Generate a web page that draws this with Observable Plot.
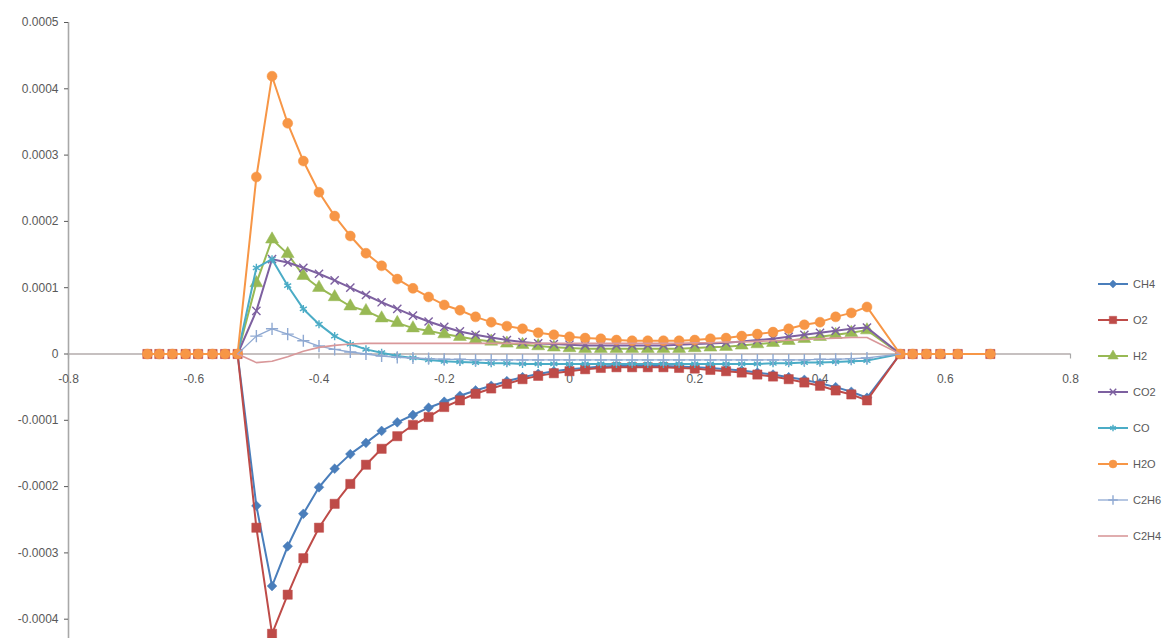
<!DOCTYPE html>
<html>
<head>
<meta charset="utf-8">
<script src="https://cdn.jsdelivr.net/npm/d3@7"></script>
<script src="https://cdn.jsdelivr.net/npm/@observablehq/plot@0.6"></script>
<style>
  html, body { margin: 0; padding: 0; background: #fff; }
  #wrap { position: relative; width: 1165px; height: 638px; overflow: hidden; }
  #legend { position: absolute; left: 1096px; top: 266px; font-family: "Liberation Sans", Arial, sans-serif; font-size: 11px; color: #595959; }
  .row { display: flex; align-items: center; height: 36px; }
  .row svg { margin-right: 3px; }
</style>
</head>
<body>
<div id="wrap"><div id="legend"></div></div>
<script>
// ---- data (values in units of 1e-5) ----
const UNIT = 1e-5;
const seriesNames = ["CH4", "O2", "H2", "CO2", "CO", "H2O", "C2H6", "C2H4"];
const xLeftZeros = [-0.674, -0.655, -0.634, -0.613, -0.593, -0.570, -0.550, -0.530];
const xRightZeros = [0.528, 0.548, 0.570, 0.592, 0.620, 0.672];
const xInner = [-0.5, -0.475, -0.45, -0.425, -0.4, -0.375, -0.35, -0.325, -0.3, -0.275,
  -0.25, -0.225, -0.2, -0.175, -0.15, -0.125, -0.1, -0.075, -0.05, -0.025,
  0, 0.025, 0.05, 0.075, 0.1, 0.125, 0.15, 0.175, 0.2, 0.225,
  0.25, 0.275, 0.3, 0.325, 0.35, 0.375, 0.4, 0.425, 0.45, 0.475];
const ch4 = [-22.9, -35.0, -29.0, -24.1, -20.1, -17.3, -15.1, -13.4, -11.6, -10.3,
  -9.2, -8.1, -7.2, -6.3, -5.5, -4.8, -4.1, -3.5, -3.0, -2.6,
  -2.3, -2.1, -1.9, -1.8, -1.8, -1.8, -1.8, -1.9, -2.0, -2.1,
  -2.3, -2.5, -2.8, -3.1, -3.5, -3.9, -4.4, -5.0, -5.7, -6.6];
const o2 = [-26.2, -42.2, -36.3, -30.8, -26.2, -22.6, -19.6, -16.7, -14.3, -12.4,
  -10.7, -9.5, -8.0, -7.0, -6.0, -5.2, -4.5, -3.8, -3.3, -2.9,
  -2.6, -2.3, -2.1, -2.0, -2.0, -2.0, -2.0, -2.1, -2.2, -2.4,
  -2.6, -2.8, -3.1, -3.4, -3.8, -4.3, -4.8, -5.5, -6.1, -7.0];
const h2 = [10.7, 17.3, 15.1, 11.8, 10.0, 8.6, 7.2, 6.5, 5.4, 4.7,
  3.9, 3.5, 3.0, 2.6, 2.2, 1.9, 1.6, 1.4, 1.2, 1.0,
  0.9, 0.8, 0.8, 0.8, 0.8, 0.8, 0.8, 0.8, 0.9, 1.0,
  1.1, 1.3, 1.5, 1.7, 2.0, 2.3, 2.6, 2.9, 3.2, 3.6];
const co2 = [6.5, 14.3, 13.8, 13.0, 12.1, 11.1, 10.0, 8.9, 7.8, 6.8,
  5.8, 4.9, 4.1, 3.4, 2.9, 2.5, 2.1, 1.8, 1.6, 1.5,
  1.4, 1.3, 1.3, 1.3, 1.3, 1.3, 1.3, 1.4, 1.5, 1.6,
  1.7, 1.9, 2.1, 2.3, 2.6, 2.9, 3.2, 3.5, 3.8, 4.0];
const co = [13.0, 14.3, 10.3, 6.8, 4.5, 2.7, 1.5, 0.7, 0.2, -0.3,
  -0.6, -0.9, -1.1, -1.2, -1.3, -1.4, -1.4, -1.5, -1.5, -1.5,
  -1.5, -1.5, -1.5, -1.5, -1.5, -1.5, -1.5, -1.5, -1.5, -1.5,
  -1.5, -1.5, -1.5, -1.4, -1.4, -1.3, -1.3, -1.2, -1.1, -1.0];
const h2o = [26.7, 41.9, 34.8, 29.1, 24.4, 20.8, 17.8, 15.2, 13.3, 11.3,
  9.9, 8.6, 7.4, 6.6, 5.6, 4.8, 4.2, 3.8, 3.2, 2.9,
  2.6, 2.4, 2.3, 2.1, 2.0, 2.0, 2.0, 2.0, 2.1, 2.3,
  2.4, 2.7, 3.0, 3.3, 3.8, 4.4, 4.8, 5.6, 6.2, 7.1];
const c2h6 = [2.7, 3.8, 3.0, 2.0, 1.2, 0.7, 0.3, 0.0, -0.3, -0.5,
  -0.6, -0.7, -0.8, -0.8, -0.9, -0.9, -0.9, -0.9, -0.9, -0.9,
  -0.9, -0.9, -0.9, -0.9, -0.9, -0.9, -0.9, -0.9, -0.9, -0.9,
  -0.9, -0.9, -0.9, -0.9, -0.9, -0.9, -0.8, -0.8, -0.7, -0.6];
const c2h4 = [-1.3, -1.1, -0.4, 0.4, 1.0, 1.3, 1.5, 1.6, 1.6, 1.6,
  1.6, 1.6, 1.6, 1.6, 1.6, 1.6, 1.6, 1.6, 1.6, 1.6,
  1.6, 1.6, 1.6, 1.6, 1.6, 1.6, 1.6, 1.6, 1.7, 1.7,
  1.8, 1.8, 1.9, 2.0, 2.1, 2.2, 2.3, 2.4, 2.5, 2.5];
const xTicks = [-0.8, -0.6, -0.4, -0.2, 0, 0.2, 0.4, 0.6, 0.8];
const xTickLabels = ["-0.8", "-0.6", "-0.4", "-0.2", "0", "0.2", "0.4", "0.6", "0.8"];
const yTicks = [0.0005, 0.0004, 0.0003, 0.0002, 0.0001, 0, -0.0001, -0.0002, -0.0003, -0.0004];
const yTickLabels = ["0.0005", "0.0004", "0.0003", "0.0002", "0.0001", "0", "-0.0001", "-0.0002", "-0.0003", "-0.0004"];

// ---- styles ----
const seriesValues = [ch4, o2, h2, co2, co, h2o, c2h6, c2h4];
const colors = ["#4a7ebb", "#be4b48", "#98b954", "#7d60a0", "#4bacc6", "#f79646", "#8fa9d2", "#d9989a"];
const symbols = ["diamond2", "square", "triangle", "times", "asterisk", "circle", "plus", null];
const radii = [4.4, 5.2, 4.8, 3.8, 3.8, 5.0, 4, 0];
const widths = [2, 2, 2, 2, 2, 2, 1.3, 1.6];
const filled = [true, true, true, false, false, true, false, false];
// series whose markers are also drawn on the zero points outside the domain
const markZeros = [false, true, false, false, false, true, false, false];

// table
const rows = [];
seriesNames.forEach((name, s) => {
  const allZeros = markZeros[s];
  (allZeros ? xLeftZeros : xLeftZeros.slice(-1)).forEach(x => rows.push({series: name, x, y: 0, zero: true}));
  xInner.forEach((x, i) => rows.push({series: name, x, y: seriesValues[s][i] * UNIT, zero: false}));
  (allZeros ? xRightZeros : xRightZeros.slice(0, 1)).forEach(x => rows.push({series: name, x, y: 0, zero: true}));
});

const marks = [
  Plot.ruleY([0], {x1: -0.8, x2: 0.8, stroke: "#b3abab", strokeWidth: 1.3}),
  Plot.ruleX([-0.8], {stroke: "#a8a8a8", strokeWidth: 1.6}),
  Plot.ruleX(xTicks, {x: d => d, y1: 0, y2: 0, insetBottom: -5, stroke: "#a8a8a8", strokeWidth: 1.2}),
  Plot.text(xTicks, {x: d => d, y: 0, dy: 25, text: (d, i) => xTickLabels[i], fill: "#595959", fontSize: 12}),
  Plot.axisY(yTicks, {anchor: "left", label: null, tickSize: 4, tickPadding: 6, tickFormat: d => yTickLabels[yTicks.indexOf(d)], fontSize: 12})
];
seriesNames.forEach((name, s) => {
  const data = rows.filter(r => r.series === name);
  marks.push(Plot.line(data, {x: "x", y: "y", stroke: colors[s], strokeWidth: widths[s], curve: "linear"}));
  if (symbols[s]) {
    marks.push(Plot.dot(markZeros[s] ? data : data.filter(r => !r.zero), {
      x: "x", y: "y", symbol: symbols[s], r: radii[s],
      fill: filled[s] ? colors[s] : "none",
      stroke: colors[s], strokeWidth: filled[s] ? 0.5 : 1.4
    }));
  }
});

const chart = Plot.plot({
  width: 1165, height: 638,
  marginLeft: 68, marginRight: 95, marginTop: 22, marginBottom: 0,
  x: {domain: [-0.8, 0.8], axis: null},
  y: {domain: [-0.0005, 0.0005], range: [685, 22], axis: null},
  style: {fontFamily: "'Liberation Sans', Arial, sans-serif", fontSize: "12px", color: "#595959", background: "#fff"},
  marks
});
document.getElementById("wrap").prepend(chart);

// ---- legend ----
const legend = d3.select("#legend");
const symMap = {diamond2: d3.symbolDiamond2, square: d3.symbolSquare, triangle: d3.symbolTriangle,
  times: d3.symbolTimes, asterisk: d3.symbolAsterisk, circle: d3.symbolCircle, plus: d3.symbolPlus};
seriesNames.forEach((name, s) => {
  const row = legend.append("div").attr("class", "row");
  const svg = row.append("svg").attr("width", 34).attr("height", 14);
  svg.append("line").attr("x1", 2).attr("x2", 32).attr("y1", 7).attr("y2", 7)
    .attr("stroke", colors[s]).attr("stroke-width", widths[s]);
  if (symbols[s]) {
    const r = radii[s] * 0.8;
    svg.append("path")
      .attr("transform", "translate(17,7)")
      .attr("d", d3.symbol(symMap[symbols[s]], Math.PI * r * r)())
      .attr("fill", filled[s] ? colors[s] : "none")
      .attr("stroke", colors[s]).attr("stroke-width", filled[s] ? 0.5 : 1.4);
  }
  row.append("span").text(name);
});
</script>
</body>
</html>
